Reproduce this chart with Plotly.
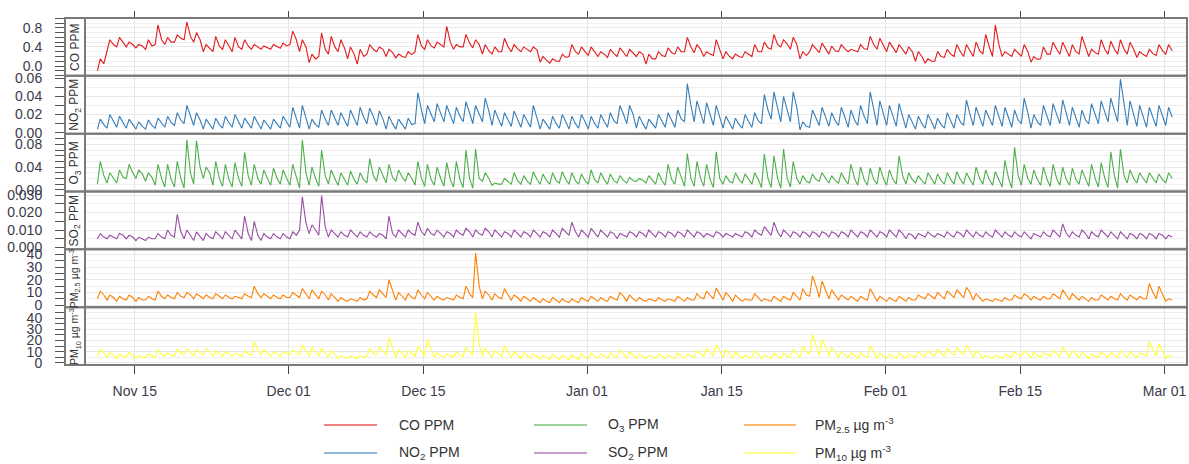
import plotly.graph_objects as go
import pandas as pd

# ---------------- data (per-day low / high / evening values) ----------------
start_date = "2019-11-11"
lo_hour = 3
hi_hour = 10
mid_hour = 19

co_hi = [0.15,0.55,0.60,0.50,0.45,0.55,0.86,0.60,0.65,0.92,0.70,0.45,0.62,0.55,
         0.60,0.55,0.45,0.42,0.45,0.48,0.73,0.55,0.25,0.69,0.62,0.55,0.40,0.35,
         0.45,0.40,0.35,0.25,0.30,0.66,0.55,0.50,0.83,0.45,0.66,0.55,0.45,0.40,
         0.58,0.45,0.40,0.40,0.20,0.15,0.25,0.45,0.40,0.40,0.30,0.35,0.38,0.35,
         0.30,0.25,0.30,0.38,0.40,0.60,0.45,0.30,0.55,0.30,0.25,0.30,0.45,0.50,
         0.66,0.55,0.60,0.30,0.45,0.48,0.42,0.45,0.35,0.45,0.62,0.58,0.50,0.45,
         0.40,0.30,0.15,0.30,0.35,0.45,0.45,0.50,0.66,0.86,0.30,0.35,0.45,0.20,
         0.40,0.50,0.50,0.45,0.62,0.35,0.55,0.52,0.55,0.50,0.30,0.35,0.45,0.45]
co_lo = [-0.10,0.35,0.40,0.40,0.38,0.35,0.45,0.45,0.50,0.55,0.50,0.30,0.30,0.35,
         0.30,0.35,0.35,0.35,0.35,0.37,0.45,0.30,0.07,0.20,0.25,0.30,0.15,0.04,
         0.25,0.30,0.20,0.17,0.18,0.30,0.35,0.38,0.40,0.35,0.40,0.38,0.25,0.25,
         0.30,0.30,0.30,0.30,0.08,0.06,0.10,0.20,0.25,0.22,0.20,0.18,0.20,0.20,
         0.20,0.04,0.15,0.20,0.25,0.30,0.28,0.20,0.22,0.15,0.15,0.18,0.20,0.30,
         0.35,0.40,0.35,0.15,0.30,0.28,0.25,0.30,0.30,0.30,0.35,0.35,0.30,0.28,
         0.25,0.10,0.06,0.10,0.18,0.20,0.20,0.20,0.25,0.20,0.20,0.20,0.20,0.08,
         0.15,0.25,0.25,0.20,0.25,0.20,0.25,0.25,0.25,0.25,0.18,0.20,0.22,0.25]
co_mid = [0.05,0.45,0.48,0.45,0.42,0.42,0.55,0.50,0.58,0.62,0.55,0.38,0.42,0.42,
          0.40,0.42,0.40,0.38,0.40,0.42,0.55,0.40,0.15,0.35,0.40,0.38,0.25,0.20,
          0.35,0.35,0.28,0.20,0.24,0.42,0.42,0.44,0.50,0.40,0.48,0.45,0.32,0.30,
          0.40,0.36,0.35,0.34,0.12,0.10,0.18,0.30,0.30,0.30,0.25,0.26,0.28,0.26,
          0.25,0.15,0.22,0.28,0.30,0.40,0.35,0.25,0.35,0.20,0.20,0.24,0.30,0.38,
          0.45,0.46,0.45,0.22,0.36,0.36,0.32,0.36,0.32,0.36,0.45,0.42,0.38,0.35,
          0.30,0.20,0.10,0.20,0.25,0.30,0.30,0.32,0.40,0.45,0.25,0.26,0.30,0.14,
          0.25,0.35,0.35,0.30,0.40,0.28,0.35,0.35,0.35,0.35,0.24,0.26,0.32,0.32]

no2_hi = [.015,.020,.018,.015,.012,.014,.016,.018,.022,.030,.022,.015,.016,.018,
          .020,.016,.018,.014,.015,.018,.028,.030,.015,.025,.025,.022,.025,.028,
          .027,.024,.018,.015,.016,.044,.030,.032,.030,.028,.034,.030,.038,.025,
          .022,.024,.020,.030,.015,.018,.020,.018,.020,.018,.020,.022,.030,.030,
          .018,.015,.020,.022,.025,.054,.035,.033,.030,.018,.016,.020,.022,.042,
          .045,.040,.045,.012,.025,.028,.022,.028,.025,.030,.045,.035,.030,.032,
          .020,.018,.020,.016,.022,.020,.036,.028,.025,.030,.028,.025,.038,.020,
          .030,.032,.036,.028,.025,.032,.035,.038,.059,.035,.030,.028,.030,.028]
no2_lo = [.004,.005,.006,.005,.004,.004,.005,.006,.008,.010,.008,.004,.004,.005,
          .006,.005,.005,.004,.004,.005,.006,.005,.004,.006,.008,.008,.007,.008,
          .010,.008,.004,.004,.004,.010,.010,.012,.012,.010,.012,.010,.012,.008,
          .007,.007,.006,.006,.004,.004,.005,.004,.005,.004,.005,.006,.010,.010,
          .005,.004,.005,.006,.006,.012,.012,.010,.008,.005,.004,.005,.006,.010,
          .015,.012,.012,.003,.006,.008,.007,.008,.006,.008,.010,.008,.008,.007,
          .005,.004,.005,.004,.005,.005,.008,.008,.007,.008,.007,.006,.010,.005,
          .008,.008,.010,.008,.006,.010,.010,.012,.012,.008,.007,.006,.007,.008]
no2_mid = [.009,.012,.011,.009,.007,.008,.010,.011,.014,.018,.014,.009,.009,.011,
           .012,.010,.011,.008,.009,.011,.016,.015,.009,.015,.016,.014,.015,.017,
           .018,.015,.010,.009,.009,.025,.020,.022,.020,.018,.022,.020,.024,.015,
           .013,.014,.012,.016,.009,.010,.012,.010,.012,.010,.012,.013,.020,.020,
           .010,.009,.012,.013,.015,.030,.022,.020,.018,.011,.009,.012,.013,.025,
           .028,.025,.028,.007,.015,.017,.013,.017,.014,.018,.027,.020,.018,.018,
           .012,.010,.012,.009,.013,.012,.020,.017,.015,.018,.016,.014,.022,.012,
           .018,.019,.022,.017,.014,.020,.022,.024,.030,.020,.017,.016,.018,.017]

o3_hi = [.050,.030,.035,.045,.035,.030,.045,.045,.050,.088,.087,.040,.050,.045,
         .048,.066,.045,.035,.038,.035,.045,.088,.040,.070,.035,.030,.033,.030,
         .055,.040,.045,.035,.030,.050,.045,.040,.048,.050,.070,.072,.030,.012,
         .020,.030,.025,.032,.028,.030,.032,.030,.028,.035,.030,.028,.025,.022,
         .020,.025,.030,.045,.040,.064,.050,.045,.067,.025,.030,.028,.030,.063,
         .060,.072,.050,.025,.028,.030,.025,.030,.045,.040,.038,.040,.035,.060,
         .030,.025,.030,.028,.030,.032,.030,.040,.035,.032,.052,.075,.045,.035,
         .040,.045,.040,.038,.035,.045,.048,.067,.072,.035,.030,.030,.028,.030]
o3_lo = [.010,.012,.012,.020,.020,.015,.008,.005,.005,.003,.010,.020,.008,.006,
         .005,.006,.008,.010,.008,.010,.008,.003,.008,.006,.010,.008,.008,.010,
         .012,.015,.012,.015,.015,.008,.006,.008,.006,.005,.004,.003,.015,.008,
         .010,.010,.010,.010,.010,.010,.012,.010,.010,.010,.012,.010,.012,.012,
         .015,.012,.010,.008,.010,.006,.006,.006,.004,.010,.012,.012,.010,.004,
         .004,.003,.005,.010,.012,.015,.012,.012,.010,.008,.008,.010,.008,.010,
         .010,.012,.010,.010,.010,.010,.010,.008,.010,.008,.005,.003,.008,.010,
         .008,.006,.008,.008,.010,.006,.005,.004,.003,.012,.012,.012,.012,.012]
o3_mid = [.025,.020,.022,.030,.028,.022,.020,.018,.020,.030,.040,.030,.020,.018,
          .020,.025,.020,.020,.020,.020,.020,.030,.020,.025,.020,.018,.018,.018,
          .025,.025,.022,.022,.020,.020,.018,.020,.018,.018,.020,.020,.020,.010,
          .014,.016,.015,.018,.016,.016,.018,.016,.016,.018,.018,.016,.016,.016,
          .017,.016,.016,.018,.020,.020,.020,.018,.020,.015,.018,.018,.018,.020,
          .020,.020,.020,.015,.018,.020,.016,.018,.020,.018,.018,.020,.018,.025,
          .018,.016,.018,.016,.018,.018,.018,.020,.018,.018,.020,.025,.020,.018,
          .018,.020,.018,.018,.018,.020,.020,.025,.025,.020,.020,.020,.018,.020]

so2_hi = [.008,.007,.008,.007,.006,.006,.008,.010,.019,.010,.009,.008,.009,.009,
          .010,.018,.015,.008,.008,.008,.009,.029,.013,.0297,.010,.009,.010,.009,
          .009,.008,.018,.010,.010,.0145,.011,.010,.009,.010,.011,.010,.011,.010,
          .009,.010,.009,.010,.009,.010,.011,.0145,.010,.011,.010,.009,.008,.009,
          .009,.010,.009,.009,.009,.010,.009,.008,.009,.008,.008,.009,.010,.012,
          .0145,.010,.009,.009,.009,.009,.009,.009,.010,.009,.010,.009,.010,.010,
          .008,.008,.009,.008,.009,.009,.010,.009,.009,.010,.009,.009,.009,.008,
          .009,.010,.0135,.009,.010,.009,.010,.009,.009,.008,.008,.008,.008,.007]
so2_lo = [.005,.005,.005,.005,.004,.004,.005,.005,.006,.005,.004,.004,.005,.005,
          .005,.005,.004,.004,.005,.005,.005,.010,.008,.007,.006,.006,.006,.006,
          .006,.006,.005,.006,.006,.007,.007,.007,.006,.006,.007,.006,.007,.006,
          .006,.006,.006,.006,.006,.006,.006,.007,.006,.006,.006,.006,.005,.006,
          .006,.006,.006,.006,.006,.006,.006,.006,.006,.006,.006,.006,.006,.007,
          .007,.006,.006,.006,.006,.006,.006,.006,.006,.006,.006,.006,.006,.006,
          .005,.005,.006,.006,.006,.006,.006,.006,.006,.006,.006,.006,.006,.005,
          .006,.006,.006,.006,.006,.005,.006,.006,.005,.005,.005,.005,.005,.005]
so2_mid = [.006,.006,.007,.006,.005,.005,.006,.007,.009,.007,.006,.006,.007,.007,
           .007,.008,.007,.006,.006,.006,.007,.014,.010,.012,.008,.007,.008,.007,
           .007,.007,.008,.008,.008,.009,.008,.008,.008,.008,.009,.008,.009,.008,
           .008,.008,.008,.008,.008,.008,.009,.009,.008,.008,.008,.008,.007,.008,
           .008,.008,.008,.008,.008,.008,.008,.007,.008,.007,.007,.008,.008,.009,
           .009,.008,.008,.008,.008,.008,.008,.008,.008,.008,.008,.008,.008,.008,
           .007,.007,.007,.007,.007,.008,.008,.007,.007,.008,.007,.007,.007,.007,
           .007,.008,.008,.007,.008,.007,.008,.007,.007,.007,.007,.007,.007,.006]

pm25_hi = [11,8,7,8,6,7,11,8,10,10,9,8,9,8,
           7,9,15,9,8,8,10,13,12,11,9,6,5,6,
           11,12,20,10,9,12,10,7,6,8,15,41,11,9,
           13,8,7,6,5,6,5,5,6,7,6,7,10,8,
           6,5,6,5,7,6,9,11,13.5,10,8,5,9,5,
           7,7,10,13,23,19,12,8,7,7,13,7,6,7,
           6,8,9,10,11,12,14,9,5,5,6,8,9,7,
           7,9,12,9,7,6,8,7,9,8,7,17,15,5]
pm25_lo = [5,4,3,4,3,4,4,5,5,6,5,5,5,5,
           5,5,6,6,5,5,6,6,5,5,4,3,3,3,
           5,6,6,4,4,5,5,4,4,4,5,6,5,4,
           5,4,3,3,2,2,2,2,2,3,3,3,4,3,
           3,3,3,3,3,3,4,5,5,4,3,3,4,3,
           3,3,4,4,7,6,5,4,4,3,4,3,3,3,
           3,4,5,5,5,6,6,4,3,3,3,4,5,4,
           4,5,5,4,4,3,4,4,4,4,4,5,5,3]
pm25_mid = [8,6,5,6,4,5,7,6,7,8,7,6,7,6,
            6,7,9,7,6,6,8,9,8,8,6,4,4,4,
            8,9,12,7,6,8,7,5,5,6,9,15,8,6,
            8,6,5,4,3,4,3,3,4,5,4,5,7,5,
            4,4,4,4,5,4,6,8,9,7,5,4,6,4,
            5,5,7,8,15,12,8,6,5,5,8,5,4,5,
            4,6,7,7,8,9,10,6,4,4,4,6,7,5,
            5,7,8,6,5,4,6,5,6,6,5,10,9,4]

pm10_hi = [12,9,8,9,7,8,12,9,12,13,12,13,11,10,
           9,11,19,12,10,10,12,16,14,13,11,7,6,7,
           13,14,23,12,11,15,21,9,8,10,14,45,13,11,
           15,10,9,8,7,8,7,7,8,9,8,9,12,10,
           8,7,8,7,9,8,11,13,16,12,10,7,11,7,
           9,9,12,15,25,21,14,10,9,9,15,9,8,9,
           8,10,11,12,13,14,16,11,7,7,8,10,11,9,
           9,11,14,11,9,8,10,9,11,10,9,19,17,7]
pm10_lo = [6,5,4,5,4,5,5,6,6,7,6,7,6,6,
           6,6,7,7,6,6,7,7,6,6,5,4,4,4,
           6,7,7,5,5,6,6,5,5,5,6,7,6,5,
           6,5,4,4,3,3,3,3,3,4,4,4,5,4,
           4,4,4,4,4,4,5,6,6,5,4,4,5,4,
           4,4,5,5,8,7,6,5,5,4,5,4,4,4,
           4,5,6,6,6,7,7,5,4,4,4,5,6,5,
           5,6,6,5,5,4,5,5,5,5,5,6,6,4]
pm10_mid = [9,7,6,7,5,6,8,7,9,10,9,10,8,8,
            7,8,12,9,8,8,9,11,10,9,8,5,5,5,
            9,10,14,8,8,10,12,7,6,7,10,17,9,8,
            10,7,6,6,5,5,5,5,5,6,6,6,8,7,
            6,5,6,5,6,6,8,9,11,8,7,5,8,5,
            6,6,8,10,16,14,10,7,7,6,10,6,6,6,
            6,7,8,9,9,10,11,8,5,5,6,7,8,7,
            7,8,10,8,7,6,7,7,8,7,7,12,11,5]

panel_labels = ["CO PPM", "NO<sub>2</sub> PPM", "O<sub>3</sub> PPM", "SO<sub>2</sub> PPM",
                "PM<sub>2.5</sub> µg m<sup>-3</sup>", "PM<sub>10</sub> µg m<sup>-3</sup>"]
legend_labels = panel_labels
colors = ["#E41A1C", "#377EB8", "#4DAF4A", "#984EA3", "#FF7F00", "#FFFF33"]
y_ranges = [[-0.205, 1.005], [-0.001, 0.0625], [-0.003, 0.099], [-0.001, 0.032],
            [-1.6, 44.0], [-1.8, 49.7]]
y_dticks = [0.4, 0.02, 0.04, 0.01, 10, 10]
y_minor = [0.1, 0.01, 0.01, 0.005, 5, 5]
y_formats = [".1f", ".2f", ".2f", ".3f", "d", "d"]
x_ticks = ["2019-11-15", "2019-12-01", "2019-12-15", "2020-01-01",
           "2020-01-15", "2020-02-01", "2020-02-15", "2020-03-01"]
x_range = ["2019-11-09 20:00", "2020-03-03 08:00"]

series = [(co_lo, co_hi, co_mid), (no2_lo, no2_hi, no2_mid), (o3_lo, o3_hi, o3_mid),
          (so2_lo, so2_hi, so2_mid), (pm25_lo, pm25_hi, pm25_mid), (pm10_lo, pm10_hi, pm10_mid)]

# ---------------- build ----------------
W, H = 1189, 464
ML, MR, MT, MB = 0, 2, 18, 99
PW = W - ML - MR
PH = H - MT - MB

def px_x(p):
    return p / PW

def px_y(p):
    return (MT + PH - p) / PH

x_dom0 = px_x(85)
axis_pos = px_x(65)
strip_mid = px_x(75)
FONT = "Liberation Sans, Arial"

base = pd.Timestamp(start_date)
fig = go.Figure()
n = len(series)
shapes = []
annotations = []
for i, (lo, hi, mid) in enumerate(series):
    xs, ys = [], []
    for d in range(len(hi)):
        day = base + pd.Timedelta(days=d)
        xs.append(day + pd.Timedelta(hours=lo_hour)); ys.append(lo[d])
        xs.append(day + pd.Timedelta(hours=hi_hour)); ys.append(hi[d])
        xs.append(day + pd.Timedelta(hours=mid_hour)); ys.append(mid[d])
    k = "" if i == 0 else str(i + 1)
    fig.add_trace(go.Scatter(x=xs, y=ys, mode="lines", xaxis="x" + k, yaxis="y" + k,
                             line=dict(color=colors[i], width=1.1), showlegend=False,
                             hoverinfo="skip"))
    d0, d1 = 1 - (i + 1) / n, 1 - i / n
    xa = dict(domain=[x_dom0, 1], anchor="y" + k, range=x_range, type="date",
              tickvals=x_ticks, tickformat="%b %d", showgrid=True, gridcolor="#e6e6e6",
              gridwidth=1, zeroline=False, showline=False,
              tickfont=dict(family=FONT, size=14, color="#3a3a4a"))
    if i == n - 1:
        xa.update(ticks="outside", ticklen=8, tickcolor="#444", showticklabels=True,
                  ticklabelstandoff=5)
    elif i == 0:
        xa.update(side="top", ticks="outside", ticklen=6, tickcolor="#444", showticklabels=False)
    else:
        xa.update(ticks="", showticklabels=False)
    if i > 0:
        xa["matches"] = "x"
    ya = dict(domain=[d0, d1], anchor="free", position=axis_pos, range=y_ranges[i],
              dtick=y_dticks[i], tick0=0, tickformat=y_formats[i], ticks="outside", ticklen=10,
              tickcolor="#555", showline=False, zeroline=False, ticklabelstandoff=10,
              showgrid=True, gridcolor="#e8e8e8", gridwidth=1,
              minor=dict(dtick=y_minor[i], tick0=0, ticks="outside", ticklen=10, tickcolor="#555",
                         showgrid=True, gridcolor="#efefef"),
              tickfont=dict(family=FONT, size=14, color="#3a3a4a"))
    fig.layout["xaxis" + k] = xa
    fig.layout["yaxis" + k] = ya
    # panel border and strip
    shapes.append(dict(type="rect", xref="paper", yref="paper", x0=axis_pos, x1=1, y0=d0, y1=d1,
                       line=dict(color="#7a7a7a", width=2), layer="above"))
    shapes.append(dict(type="line", xref="paper", yref="paper", x0=x_dom0, x1=x_dom0, y0=d0, y1=d1,
                       line=dict(color="#7a7a7a", width=2), layer="above"))
    annotations.append(dict(xref="paper", yref="paper", x=strip_mid, y=(d0 + d1) / 2,
                            text=panel_labels[i], textangle=-90, showarrow=False,
                            font=dict(family=FONT, size=12 if i < 4 else 10.5, color="#333"),
                            xanchor="center", yanchor="middle"))

# legend (3 columns x 2 rows)
leg_cols = [(324, 377, 397), (534, 587, 606), (744, 796, 813)]
leg_rows = [425, 453]
for j in range(6):
    c, r = j // 2, j % 2
    x0, x1, xt = leg_cols[c]
    yy = px_y(leg_rows[r])
    shapes.append(dict(type="line", xref="paper", yref="paper", x0=px_x(x0), x1=px_x(x1),
                       y0=yy, y1=yy, line=dict(color=colors[j], width=2), opacity=0.55))
    annotations.append(dict(xref="paper", yref="paper", x=px_x(xt), y=yy, text=legend_labels[j],
                            showarrow=False, xanchor="left", yanchor="middle",
                            font=dict(family=FONT, size=14, color="#333")))

fig.update_layout(width=W, height=H, margin=dict(l=ML, r=MR, t=MT, b=MB),
                  paper_bgcolor="white", plot_bgcolor="white",
                  shapes=shapes, annotations=annotations, showlegend=False)
fig.write_html("out.html", config={"displayModeBar": False})

# remove the browser's default page margin so the figure sits at the window's corner
with open("out.html", "r", encoding="utf-8") as f:
    html = f.read()
html = html.replace("<body>", '<body style="margin:0;padding:0;overflow:hidden">', 1)
with open("out.html", "w", encoding="utf-8") as f:
    f.write(html)
